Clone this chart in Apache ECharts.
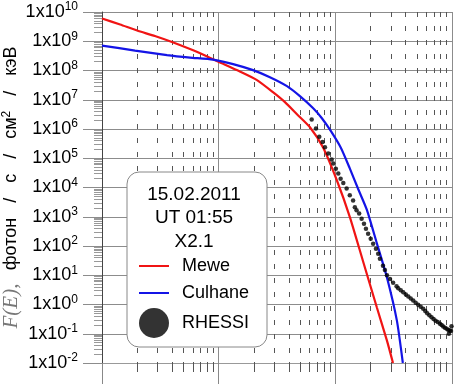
<!DOCTYPE html>
<html><head><meta charset="utf-8">
<script src="https://cdn.jsdelivr.net/npm/echarts@6/dist/echarts.min.js"></script>
<style>html,body{margin:0;padding:0;background:#fff}#c{width:455px;height:384px}</style>
</head><body><div id="c"></div>
<script>
// Energy in keV, flux in photons / s / cm^2 / keV
const meweEnergy = [0.1, 0.143, 0.2, 0.284, 0.398, 0.568, 0.764, 0.986, 1.52, 2.13, 2.92, 3.70, 4.69, 6.06, 7.83, 10.3, 13.3, 17.2, 22.7, 27.7, 31.2];
const meweFlux = [5.98e9, 3.73e9, 2.32e9, 1.51e9, 9.4e8, 5.4e8, 3.24e8, 2.02e8, 9.2e7, 4.7e7, 1.82e7, 8.3e6, 3.2e6, 1.15e6, 2.38e5, 1.77e4, 993, 32, 0.79, 0.058, 0.01];

const culhaneEnergy = [0.1, 0.192, 0.361, 0.568, 0.893, 1.33, 1.97, 2.75, 3.85, 4.97, 6.43, 7.67, 9.17, 11.2, 13.3, 15.6, 18.7, 22.7, 27.7, 33.7, 37.9];
const culhaneFlux = [7.1e8, 4.8e8, 3.37e8, 2.77e8, 2.36e8, 1.66e8, 1.03e8, 5.9e7, 2.92e7, 1.33e7, 5.2e6, 2.34e6, 8.4e5, 2.2e5, 4.5e4, 9.4e3, 1.66e3, 123, 8.4, 0.28, 0.01];

const rhessiEnergy = [6.27, 6.82, 7.28, 7.78, 8.15, 8.70, 9.30, 9.60, 10.1, 10.6, 11.1, 11.7, 12.5, 13.3, 14.2, 14.7, 15.2, 16.0, 16.8, 17.6, 18.3, 19.1, 20.1, 21.1, 22.3, 23.3, 24.1, 25.6, 26.6, 27.7, 29.4, 31.3, 33.5, 34.6, 36.4, 38.2, 40.2, 42.2, 44.3, 46.5, 48.8, 51.3, 53.9, 56.6, 59.0, 61.3, 64.0, 66.8, 69.5, 72.3, 75.5, 78.8, 81.5, 84.1, 87.0, 90.0, 93.0, 94.0, 96.0, 98.0, 99.0];
const rhessiFlux = [2.1e6, 1.04e6, 5.4e5, 3.6e5, 2.4e5, 1.45e5, 9.0e4, 6.6e4, 4.4e4, 3.0e4, 2.0e4, 1.43e4, 9.2e3, 5.4e3, 3.6e3, 2.1e3, 1.66e3, 1.28e3, 860, 580, 390, 264, 178, 120, 81, 54, 37, 21, 15, 10, 7.5, 5.5, 4.2, 3.6, 3.1, 2.64, 2.2, 1.88, 1.6, 1.37, 1.15, 0.98, 0.83, 0.71, 0.6, 0.50, 0.43, 0.37, 0.32, 0.28, 0.25, 0.22, 0.2, 0.177, 0.16, 0.147, 0.135, 0.10, 0.129, 0.125, 0.18];

const legendTitleLines = ['15.02.2011', 'UT 01:55', 'X2.1'];
const seriesNames = ['Mewe', 'Culhane', 'RHESSI'];

const pairs = (xs, ys) => xs.map((x, i) => [x, ys[i]]);
const SANS = '"Liberation Sans", Arial, sans-serif';
const HIDE_SYMBOL = {color: 'rgba(0,0,0,0)', borderColor: 'rgba(0,0,0,0)', borderWidth: 0};

const chart = echarts.init(document.getElementById('c'), null, {renderer: 'canvas'});
chart.setOption({
  animation: false,
  backgroundColor: '#fff',
  grid: {left: 102, right: 3, top: 12, bottom: 21, containLabel: false, outerBoundsMode: 'none'},
  xAxis: {
    type: 'log', logBase: 10, min: 0.1, max: 100, interval: 1,
    axisLine: {show: true, lineStyle: {color: '#999', width: 1}},
    axisTick: {show: true, length: 22, lineStyle: {color: '#888'}},
    minorTick: {show: true, splitNumber: 9, length: 9, lineStyle: {color: '#555'}},
    axisLabel: {show: false},
    splitLine: {show: true, lineStyle: {color: '#8c8c8c', width: 1}},
    minorSplitLine: {show: true, lineStyle: {color: '#555', width: 1, type: [5, 9]}}
  },
  yAxis: {
    type: 'log', logBase: 10, min: 0.01, max: 1e10, interval: 1,
    name: '{f|F(E),}    {t|фотон   /   с   /   см}{u|2}{t|   /   кэВ}',
    nameLocation: 'middle', nameRotate: 90, nameGap: 80, nameMoveOverlap: false,
    nameTextStyle: {
      rich: {
        f: {fontFamily: '"Liberation Serif", "Times New Roman", serif', fontStyle: 'italic', fontSize: 21, color: '#777'},
        t: {fontFamily: SANS, fontSize: 18, color: '#000'},
        u: {fontFamily: SANS, fontSize: 12, color: '#000', verticalAlign: 'top'}
      }
    },
    axisLine: {show: true, lineStyle: {color: '#444', width: 1}},
    axisTick: {show: true, length: 19, lineStyle: {color: '#8c8c8c'}},
    minorTick: {show: true, splitNumber: 9, length: 8, lineStyle: {color: '#999'}},
    axisLabel: {
      margin: 24,
      formatter: v => '{b|1x10}{s|' + Math.round(Math.log10(v)) + '}',
      rich: {
        b: {fontFamily: SANS, fontSize: 18, color: '#000', lineHeight: 22},
        s: {fontFamily: SANS, fontSize: 12, color: '#000', verticalAlign: 'top'}
      }
    },
    splitLine: {show: true, lineStyle: {color: '#8c8c8c', width: 1}},
    minorSplitLine: {show: false}
  },
  legend: {
    show: true, orient: 'vertical', left: 138, top: 254, padding: 0,
    itemWidth: 30, itemHeight: 30, itemGap: 3, z: 6,
    textStyle: {fontFamily: SANS, fontSize: 18, color: '#000', padding: [0, 0, 0, 8]},
    data: [
      {name: seriesNames[0], itemStyle: HIDE_SYMBOL},
      {name: seriesNames[1], itemStyle: HIDE_SYMBOL},
      {name: seriesNames[2], icon: 'circle'}
    ]
  },
  graphic: [
    {type: 'rect', z: 4, shape: {x: 127, y: 172, width: 140, height: 175, r: 12},
     style: {fill: '#fff', stroke: '#888', lineWidth: 1}},
    {type: 'text', z: 6, x: 194, y: 195, style: {text: legendTitleLines[0], font: '19px ' + SANS, fill: '#000', textAlign: 'center', textVerticalAlign: 'middle'}},
    {type: 'text', z: 6, x: 194, y: 218, style: {text: legendTitleLines[1], font: '19px ' + SANS, fill: '#000', textAlign: 'center', textVerticalAlign: 'middle'}},
    {type: 'text', z: 6, x: 194, y: 242, style: {text: legendTitleLines[2], font: '19px ' + SANS, fill: '#000', textAlign: 'center', textVerticalAlign: 'middle'}}
  ],
  series: [
    {name: seriesNames[0], type: 'line', data: pairs(meweEnergy, meweFlux), showSymbol: false, symbol: 'none',
     smooth: 0.2, lineStyle: {color: '#f01414', width: 2.2}, itemStyle: {color: '#f01414'}, z: 3},
    {name: seriesNames[1], type: 'line', data: pairs(culhaneEnergy, culhaneFlux), showSymbol: false, symbol: 'none',
     smooth: 0.2, lineStyle: {color: '#1414e6', width: 2.2}, itemStyle: {color: '#1414e6'}, z: 3},
    {name: seriesNames[2], type: 'scatter', data: pairs(rhessiEnergy, rhessiFlux), symbol: 'circle', symbolSize: 4.5,
     itemStyle: {color: '#000'}, z: 4}
  ]
});
</script></body></html>
